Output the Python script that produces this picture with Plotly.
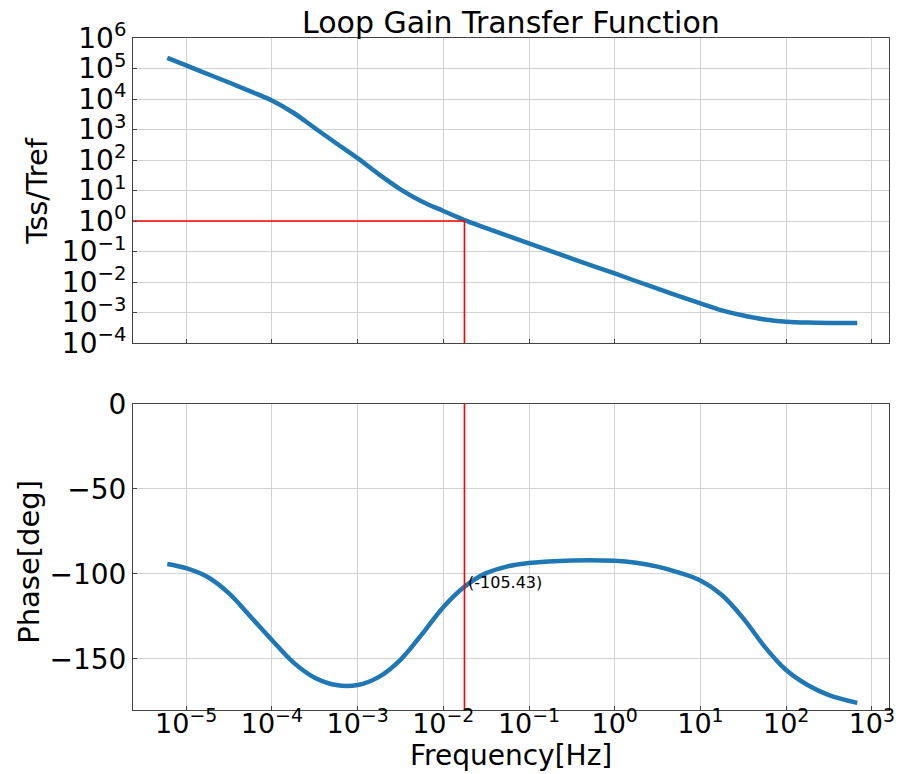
import plotly.graph_objects as go
from plotly.subplots import make_subplots

# ---- data ----
log_freq_mag = [-5.22, -5.0, -4.75, -4.5, -4.25, -4.0, -3.75, -3.5, -3.25, -3.0,
                -2.75, -2.5, -2.25, -2.0, -1.753, -1.5, -1.0, -0.5, 0.0, 0.5,
                1.0, 1.25, 1.5, 1.75, 2.0, 2.25, 2.5, 2.83]
log_mag = [5.35, 5.10, 4.82, 4.54, 4.25, 3.95, 3.55, 3.05, 2.55, 2.06,
           1.53, 1.04, 0.64, 0.33, 0.03, -0.23, -0.73, -1.23, -1.72, -2.22,
           -2.70, -2.93, -3.10, -3.23, -3.30, -3.33, -3.34, -3.34]

log_freq_ph = [-5.22, -5.0, -4.75, -4.5, -4.25, -4.0, -3.75, -3.5, -3.25,
               -3.0, -2.75, -2.5, -2.25, -2.0, -1.753, -1.5, -1.25, -1.0, -0.5,
               0.0, 0.25, 0.5, 0.75, 1.0, 1.25, 1.5, 1.75, 2.0, 2.25, 2.5, 2.83]
phase = [-94.1, -96.6, -101.8, -111.4, -125.0, -138.8, -152.0, -161.0, -165.3,
         -165.3, -160.5, -150.5, -135.5, -119.5, -107.5, -99.5, -95.5, -93.5, -92.0,
         -92.2, -93.4, -95.7, -99.2, -103.9, -112.4, -126.1, -142.8, -156.5, -165.3, -171.2, -175.8]

crossover_freq = 10 ** -1.753
crossover_phase = -105.43
crossover_label = "(-105.43)"

x_tick_exp = [-5, -4, -3, -2, -1, 0, 1, 2, 3]
y_tick_exp = [-4, -3, -2, -1, 0, 1, 2, 3, 4, 5, 6]
phase_ticks = [0, -50, -100, -150]

freq_mag = [10 ** v for v in log_freq_mag]
mag = [10 ** v for v in log_mag]
freq_ph = [10 ** v for v in log_freq_ph]

def pw(e):
    s = str(e) if e >= 0 else "\u2212" + str(-e)
    return "10<sup>" + s + "</sup>"

BLUE = "#1f77b4"
FONT = "DejaVu Sans"
TICK = 28
LAB = 29

fig = make_subplots(rows=2, cols=1, shared_xaxes=True, vertical_spacing=0.0907)

fig.add_trace(go.Scatter(x=freq_mag, y=mag, mode="lines", line=dict(color=BLUE, width=4.5, shape="spline"),
                         showlegend=False), row=1, col=1)
fig.add_trace(go.Scatter(x=[10 ** -6, crossover_freq, crossover_freq], y=[1, 1, 1e-4], mode="lines",
                         line=dict(color="red", width=1.6), showlegend=False), row=1, col=1)

fig.add_trace(go.Scatter(x=freq_ph, y=phase, mode="lines", line=dict(color=BLUE, width=4.5, shape="spline"),
                         showlegend=False), row=2, col=1)
fig.add_trace(go.Scatter(x=[crossover_freq, crossover_freq], y=[0, -180], mode="lines",
                         line=dict(color="red", width=1.6), showlegend=False), row=2, col=1)

fig.add_annotation(x=-1.753, y=crossover_phase, xref="x2", yref="y2", text=crossover_label,
                   showarrow=False, xanchor="left", yanchor="middle", xshift=2, yshift=1,
                   font=dict(family=FONT, size=16, color="black"))

axis_common = dict(showline=True, linecolor="#444444", linewidth=1, mirror=True,
                   ticks="inside", ticklen=4, tickcolor="#444444",
                   showgrid=True, gridcolor="#d2d2d2", gridwidth=1, zeroline=False,
                   tickfont=dict(family=FONT, size=TICK, color="black"))

xr = [-5.62, 3.20]
fig.update_xaxes(type="log", range=xr, tickvals=[10 ** e for e in x_tick_exp],
                 ticktext=[pw(e) for e in x_tick_exp], **axis_common)
fig.update_xaxes(showticklabels=False, row=1, col=1)
fig.update_xaxes(ticklabelstandoff=-10, tickfont=dict(family=FONT, size=27, color="black"), row=2, col=1)
fig.update_yaxes(type="log", range=[-4, 6], tickvals=[10 ** e for e in y_tick_exp],
                 ticktext=[pw(e) for e in y_tick_exp], row=1, col=1, **axis_common)
fig.update_yaxes(range=[-180, 0], tickvals=phase_ticks,
                 ticktext=[("\u2212" + str(-v)) if v < 0 else str(v) for v in phase_ticks],
                 row=2, col=1, **axis_common)

# titles
fig.add_annotation(text="Loop Gain Transfer Function", xref="paper", yref="paper",
                   x=(514.5 - 133) / 762, y=(710 - 23) / 672,
                   xanchor="center", yanchor="middle", showarrow=False,
                   font=dict(family=FONT, size=30, color="black"))
fig.add_annotation(text="Tss/Tref", xref="paper", yref="paper", x=(36 - 133) / 762, y=(710 - 191) / 672,
                   textangle=-90, xanchor="center", yanchor="middle", showarrow=False,
                   font=dict(family=FONT, size=LAB, color="black"))
fig.add_annotation(text="Phase[deg]", xref="paper", yref="paper", x=(28 - 133) / 762, y=(710 - 562) / 672,
                   textangle=-90, xanchor="center", yanchor="middle", showarrow=False,
                   font=dict(family=FONT, size=LAB, color="black"))
fig.add_annotation(text="Frequency[Hz]", xref="paper", yref="paper", x=(513.5 - 133) / 762, y=(710 - 774) / 672,
                   xanchor="center", yanchor="bottom", showarrow=False,
                   font=dict(family=FONT, size=28, color="black"))

fig.update_layout(width=905, height=774, margin=dict(l=133, r=10, t=38, b=64),
                  paper_bgcolor="white", plot_bgcolor="white", font=dict(family=FONT))
fig.update_layout(yaxis=dict(domain=[0.5461, 1.0]), yaxis2=dict(domain=[0.0, 0.4554]))

fig.write_html("out.html")
